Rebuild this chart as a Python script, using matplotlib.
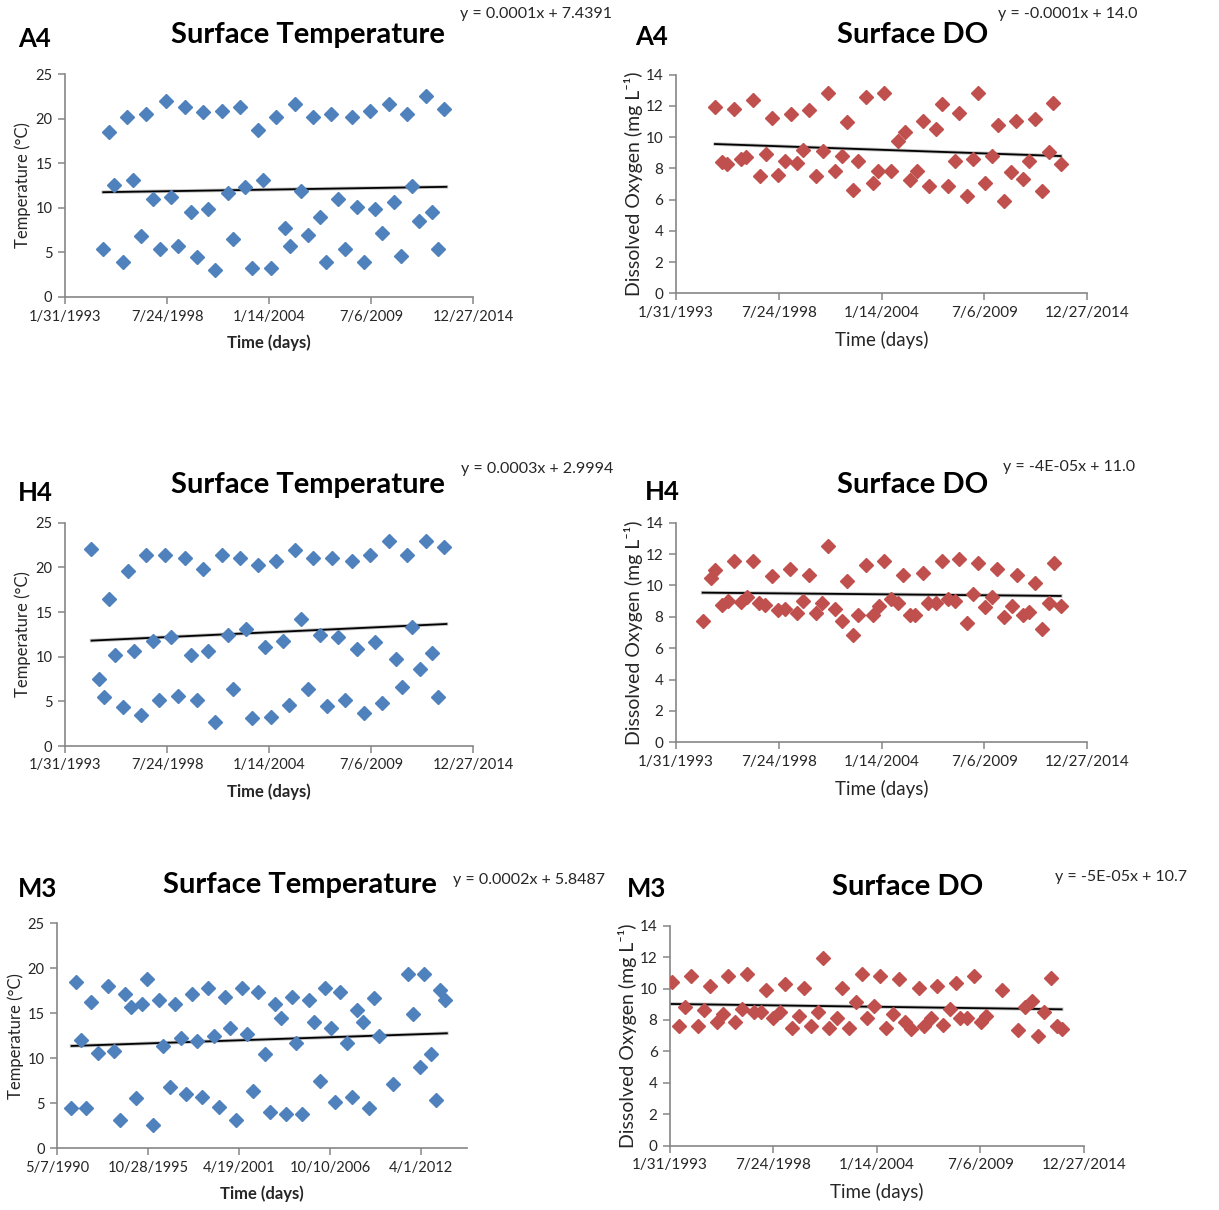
import datetime as dt
import numpy as np
import matplotlib
matplotlib.use("Agg")
import matplotlib.pyplot as plt
from matplotlib.ticker import FuncFormatter, MultipleLocator, FixedLocator

plt.rcParams['font.family'] = ['Lato', 'DejaVu Sans']

# ---------------- data (x = Excel day serial, y = value) ----------------
a4_temp_day = [34738, 34856, 34967, 35130, 35221, 35326, 35489, 35580, 35718, 35861, 35979, 36083,
               36221, 36351, 36469, 36580, 36710, 36808, 36939, 37070, 37200, 37298, 37429, 37527,
               37664, 37788, 37886, 38030, 38147, 38310, 38408, 38506, 38637, 38768, 38866, 39009,
               39127, 39225, 39355, 39499, 39630, 39728, 39858, 39989, 40087, 40224, 40355, 40446,
               40583, 40707, 40812, 40942, 41073, 41204, 41315, 41439]
a4_temp_val = [5.4, 18.5, 12.6, 3.9, 20.2, 13.1, 6.8, 20.5, 11.0, 5.4, 22.0, 11.2,
               5.7, 21.3, 9.5, 4.5, 20.7, 9.9, 3.0, 20.9, 11.7, 6.5, 21.3, 12.3,
               3.2, 18.7, 13.1, 3.2, 20.2, 7.7, 5.7, 21.6, 11.9, 7.0, 20.2, 9.0,
               3.9, 20.5, 11.0, 5.4, 20.2, 10.1, 3.9, 20.9, 9.9, 7.2, 21.6, 10.7,
               4.6, 20.5, 12.5, 8.5, 22.5, 9.5, 5.4, 21.1]
a4_temp_trend_day = [34751, 41478]
a4_temp_trend_val = [11.75, 12.35]

a4_do_day = [34764, 34900, 35004, 35134, 35263, 35367, 35496, 35639, 35756, 35866, 35995, 36125,
             36241, 36364, 36481, 36598, 36727, 36857, 36954, 37097, 37226, 37323, 37453, 37550,
             37692, 37828, 37926, 38055, 38185, 38327, 38457, 38554, 38684, 38813, 38923, 39059,
             39169, 39286, 39429, 39513, 39655, 39785, 39882, 40012, 40141, 40271, 40381, 40517,
             40614, 40744, 40873, 40983, 41113, 41249, 41340, 41482]
a4_do_val = [11.9, 8.4, 8.3, 11.8, 8.6, 8.75, 12.4, 7.5, 8.9, 11.25, 7.6, 8.5,
             11.5, 8.35, 9.15, 11.75, 7.5, 9.1, 12.85, 7.85, 8.8, 10.95, 6.6, 8.5,
             12.6, 7.05, 7.85, 12.85, 7.85, 9.75, 10.3, 7.25, 7.85, 11.05, 6.85, 10.55,
             12.15, 6.85, 8.5, 11.55, 6.2, 8.6, 12.85, 7.05, 8.8, 10.8, 5.9, 7.75,
             11.05, 7.35, 8.5, 11.15, 6.55, 9.05, 12.2, 8.25]
a4_do_trend_day = [34764, 41482]
a4_do_trend_val = [9.56, 8.79]

h4_temp_day = [34503, 34666, 34771, 34856, 34986, 35130, 35228, 35358, 35489, 35587, 35718, 35848,
               35959, 36083, 36221, 36351, 36469, 36580, 36710, 36808, 36939, 37070, 37200, 37298,
               37429, 37540, 37664, 37788, 37919, 38030, 38147, 38278, 38389, 38506, 38624, 38768,
               38866, 39009, 39140, 39238, 39355, 39499, 39630, 39728, 39858, 39989, 40087, 40224,
               40355, 40485, 40616, 40707, 40812, 40956, 41073, 41204, 41321, 41439]
h4_temp_val = [22.0, 7.5, 5.5, 16.5, 10.2, 4.4, 19.6, 10.6, 3.5, 21.4, 11.75, 5.15,
               21.4, 12.2, 5.6, 21.1, 10.2, 5.15, 19.8, 10.6, 2.65, 21.4, 12.4, 6.4,
               21.1, 13.1, 3.1, 20.3, 11.1, 3.3, 20.7, 11.75, 4.6, 21.9, 14.2, 6.4,
               21.1, 12.4, 4.45, 21.1, 12.2, 5.15, 20.7, 10.85, 3.7, 21.4, 11.6, 4.85,
               22.95, 9.75, 6.65, 21.4, 13.35, 8.65, 22.95, 10.45, 5.5, 22.25]
h4_temp_trend_day = [34522, 41478]
h4_temp_trend_val = [11.8, 13.66]

h4_do_day = [34538, 34687, 34764, 34900, 35024, 35134, 35263, 35380, 35496, 35626, 35736, 35866,
             35995, 36125, 36222, 36352, 36481, 36598, 36727, 36844, 36967, 37097, 37226, 37323,
             37453, 37550, 37692, 37828, 37945, 38055, 38185, 38327, 38424, 38554, 38651, 38800,
             38910, 39059, 39169, 39299, 39429, 39513, 39655, 39785, 39882, 40012, 40141, 40251,
             40381, 40530, 40640, 40757, 40873, 40983, 41113, 41249, 41359, 41482]
h4_do_val = [7.73, 10.45, 10.98, 8.75, 9.03, 11.56, 8.97, 9.28, 11.56, 8.9, 8.75, 10.6,
             8.41, 8.5, 11.05, 8.24, 9.03, 10.64, 8.24, 8.86, 12.53, 8.5, 7.73, 10.3,
             6.84, 8.14, 11.28, 8.14, 8.67, 11.56, 9.16, 8.86, 10.64, 8.14, 8.14, 10.81,
             8.88, 8.86, 11.56, 9.11, 9.03, 11.66, 7.6, 9.43, 11.41, 8.65, 9.28, 11.05,
             8.01, 8.67, 10.64, 8.14, 8.33, 10.15, 7.24, 8.88, 11.45, 8.67]
h4_do_trend_day = [34525, 41482]
h4_do_trend_val = [9.54, 9.33]

m3_temp_day = [33293, 33410, 33512, 33629, 33739, 33886, 34105, 34252, 34376, 34486, 34610, 34727,
               34852, 34961, 35108, 35232, 35327, 35474, 35598, 35715, 35825, 35964, 36081, 36191,
               36308, 36447, 36557, 36681, 36806, 36923, 37062, 37179, 37304, 37413, 37560, 37670,
               37779, 37926, 38035, 38160, 38255, 38379, 38526, 38636, 38782, 38892, 39009, 39111,
               39221, 39368, 39485, 39594, 39719, 39843, 39960, 40063, 40377, 40707, 40817, 40963,
               41058, 41219, 41329, 41417, 41512]
m3_temp_val = [4.44, 18.48, 12.04, 4.44, 16.26, 10.63, 18.07, 10.85, 3.15, 17.15, 15.74, 5.56,
               16.04, 18.78, 2.59, 16.48, 11.41, 6.85, 16.04, 12.26, 6.0, 17.15, 11.89, 5.74,
               17.81, 12.48, 4.63, 16.85, 13.41, 3.11, 17.81, 12.7, 6.41, 17.33, 10.44, 4.0,
               16.04, 14.44, 3.78, 16.85, 11.74, 3.78, 16.48, 14.0, 7.52, 17.81, 13.41, 5.11,
               17.33, 11.74, 5.74, 15.33, 14.0, 4.44, 16.74, 12.48, 7.11, 19.41, 14.89, 9.07,
               19.41, 10.44, 5.37, 17.63, 16.48]
m3_temp_trend_day = [33315, 41563]
m3_temp_trend_val = [11.37, 12.78]

m3_do_day = [34032, 34174, 34296, 34399, 34535, 34663, 34773, 34902, 35030, 35127, 35262, 35391,
             35494, 35623, 35752, 35855, 35990, 36125, 36228, 36357, 36486, 36595, 36724, 36859,
             36962, 37078, 37220, 37323, 37452, 37594, 37716, 37812, 37948, 38057, 38173, 38315,
             38424, 38540, 38650, 38817, 38914, 39036, 39152, 39268, 39410, 39519, 39603, 39744,
             39880, 40009, 40105, 40408, 40730, 40859, 40987, 41116, 41226, 41361, 41470, 41567]
m3_do_val = [10.39, 7.59, 8.8, 10.78, 7.59, 8.61, 10.14, 7.85, 8.4, 10.78, 7.85, 8.72,
             10.92, 8.49, 8.49, 9.91, 8.12, 8.49, 10.27, 7.49, 8.23, 10.03, 7.64, 8.49,
             11.94, 7.49, 8.12, 10.03, 7.49, 9.12, 10.92, 8.12, 8.89, 10.78, 7.49, 8.36,
             10.59, 7.85, 7.45, 10.03, 7.59, 8.12, 10.14, 7.7, 8.68, 10.37, 8.12, 8.12,
             10.78, 7.85, 8.23, 9.91, 7.34, 8.85, 9.19, 6.96, 8.49, 10.67, 7.59, 7.45]
m3_do_trend_day = [34000, 41567]
m3_do_trend_val = [9.02, 8.68]

station_labels = ["A4", "H4", "M3"]
equations = ["y = 0.0001x + 7.4391", "y = -0.0001x + 14.0",
             "y = 0.0003x + 2.9994", "y = -4E-05x + 11.0",
             "y = 0.0002x + 5.8487", "y = -5E-05x + 10.7"]

BLUE = "#4F81BD"
RED = "#C0504D"
AXC = "#868686"
TXT = "#262626"

EPOCH = dt.datetime(1899, 12, 30)


def fmt_date(v, pos):
    d = EPOCH + dt.timedelta(days=int(round(v)))
    return f"{d.month}/{d.day}/{d.year}"


fig = plt.figure(figsize=(12.19, 12.10), dpi=100)
W, H = 1219.0, 1210.0


def make_axes(x0, x1, ytop, ybot):
    return fig.add_axes([x0 / W, 1 - ybot / H, (x1 - x0) / W, (ybot - ytop) / H])


def style(ax, xmin, xmax, ymax, ystep, kind):
    ax.set_xlim(xmin, xmax)
    ax.set_ylim(0, ymax)
    ax.xaxis.set_major_locator(FixedLocator(np.arange(xmin, xmax + 1, 2000)))
    ax.xaxis.set_major_formatter(FuncFormatter(fmt_date))
    ax.yaxis.set_major_locator(MultipleLocator(ystep))
    for s in ("top", "right"):
        ax.spines[s].set_visible(False)
    for s in ("left", "bottom"):
        ax.spines[s].set_color(AXC)
        ax.spines[s].set_linewidth(1.2)
    fs = 10.5 if kind == "T" else 11
    ax.tick_params(direction="out", length=5, width=1.1, color=AXC,
                   labelsize=fs, labelcolor=TXT, pad=4)
    if kind == "T":
        ax.set_ylabel("Temperature (°C)", fontsize=12, color=TXT, labelpad=3)
        ax.set_xlabel("Time (days)", fontsize=12, color=TXT, fontweight="bold", labelpad=8)
    else:
        ax.set_ylabel("Dissolved Oxygen (mg L⁻¹)", fontsize=14, color=TXT, labelpad=2)
        ax.set_xlabel("Time (days)", fontsize=13.5, color=TXT, labelpad=8)


def draw(ax, xd, yv, td, tv, color):
    ax.plot(xd, yv, linestyle="none", marker="D", markersize=7.5,
            markerfacecolor=color, markeredgecolor=color, zorder=3)
    ax.plot(td, tv, color="#9a9a9a", lw=2.6, alpha=0.6, zorder=2)
    ax.plot(td, tv, color="black", lw=1.3, zorder=2.5)


# A4 temperature
ax = make_axes(65, 473, 74, 297)
draw(ax, a4_temp_day, a4_temp_val, a4_temp_trend_day, a4_temp_trend_val, BLUE)
style(ax, 34000, 42000, 25, 5, "T")
# A4 DO
ax = make_axes(675.7, 1087.3, 74.7, 293.3)
draw(ax, a4_do_day, a4_do_val, a4_do_trend_day, a4_do_trend_val, RED)
style(ax, 34000, 42000, 14, 2, "D")
# H4 temperature
ax = make_axes(65, 473, 522.7, 746)
draw(ax, h4_temp_day, h4_temp_val, h4_temp_trend_day, h4_temp_trend_val, BLUE)
style(ax, 34000, 42000, 25, 5, "T")
# H4 DO
ax = make_axes(675.7, 1087.3, 522.7, 742.3)
draw(ax, h4_do_day, h4_do_val, h4_do_trend_day, h4_do_trend_val, RED)
style(ax, 34000, 42000, 14, 2, "D")
# M3 temperature
ax = make_axes(57.3, 466.7, 923.3, 1148.3)
draw(ax, m3_temp_day, m3_temp_val, m3_temp_trend_day, m3_temp_trend_val, BLUE)
style(ax, 33000, 42000, 25, 5, "T")
# M3 DO
ax = make_axes(670, 1084, 925.7, 1145.7)
draw(ax, m3_do_day, m3_do_val, m3_do_trend_day, m3_do_trend_val, RED)
style(ax, 34000, 42000, 14, 2, "D")


def ftext(x, y, s, **kw):
    fig.text(x / W, 1 - y / H, s, **kw)


title_kw = dict(fontsize=21, fontweight="bold", color="black", va="center", ha="center")
lab_kw = dict(fontsize=18.5, fontweight="bold", color="black", va="center", ha="left")
eq_kw = dict(fontsize=11.5, color=TXT, va="center", ha="left")

# station labels
ftext(18, 39, station_labels[0], **lab_kw)
ftext(635, 37, station_labels[0], **lab_kw)
ftext(18, 493, station_labels[1], **lab_kw)
ftext(645, 492, station_labels[1], **lab_kw)
ftext(18, 889, station_labels[2], **lab_kw)
ftext(627, 889, station_labels[2], **lab_kw)

# titles
ftext(308, 35, "Surface Temperature", **title_kw)
ftext(913, 35, "Surface DO", **title_kw)
ftext(308, 485, "Surface Temperature", **title_kw)
ftext(913, 485, "Surface DO", **title_kw)
ftext(300, 885, "Surface Temperature", **title_kw)
ftext(908, 887, "Surface DO", **title_kw)

# equations
ftext(460, 14, equations[0], **eq_kw)
ftext(998, 14, equations[1], **eq_kw)
ftext(461, 469, equations[2], **eq_kw)
ftext(1003, 467, equations[3], **eq_kw)
ftext(453, 880, equations[4], **eq_kw)
ftext(1055, 877, equations[5], **eq_kw)

fig.savefig("out.png", dpi=100, facecolor="white")
